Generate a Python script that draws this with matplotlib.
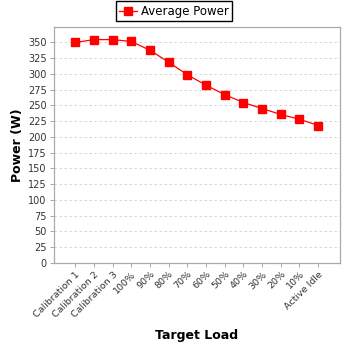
import numpy as np
import matplotlib
matplotlib.use('Agg')
import matplotlib.pyplot as plt

# Data
target_loads = ['Calibration 1', 'Calibration 2', 'Calibration 3', '100%', '90%', '80%',
                '70%', '60%', '50%', '40%', '30%', '20%', '10%', 'Active Idle']
average_power = [350, 354.5, 354.5, 351.5, 337.5, 318.5, 298.5, 282, 267, 254.5, 245, 235.5, 228, 218]
y_ticks = np.arange(0, 351, 25)

fig = plt.figure(figsize=(3.48, 3.48), dpi=100)
ax = fig.add_axes([53.5/348, (348-262.7)/348, (340-53.5)/348, (262.7-26.7)/348])

x = np.arange(len(target_loads))
ax.plot(x, average_power, color='#ff0000', linewidth=0.9, marker='s', markersize=6,
        markerfacecolor='#ff0000', markeredgecolor='#ff0000', label='Average Power')

ax.set_xlim(-1.17, len(target_loads) - 1 + 1.17)
ax.set_ylim(0, 375)
ax.set_yticks(y_ticks)
ax.set_yticklabels([str(v) for v in y_ticks], fontsize=7, color='#333333')
ax.set_xticks(x)
ax.set_xticklabels(target_loads, rotation=45, ha='right', rotation_mode='anchor',
                   fontsize=6.8, color='#333333')
ax.tick_params(axis='both', direction='out', length=3, width=0.6, color='#999999', pad=2)

ax.yaxis.grid(True, linestyle=(0, (3, 3)), color='#d0d0d0', linewidth=0.6)
ax.set_axisbelow(True)
for side in ['top', 'right', 'left', 'bottom']:
    ax.spines[side].set_color('#aaaaaa')
    ax.spines[side].set_linewidth(0.9)

ax.set_xlabel('Target Load', fontsize=9, fontweight='bold')
ax.set_ylabel('Power (W)', fontsize=9, fontweight='bold')
# label positions in figure pixels converted to axes coords
ax.xaxis.set_label_coords((196.7 - 53.5) / (340 - 53.5), (262.7 - 335) / (262.7 - 26.7))
ax.yaxis.set_label_coords((18 - 53.5) / (340 - 53.5), 0.5)
ax.xaxis.label.set_va('center')
ax.yaxis.label.set_va('center')

fig.legend(loc='upper center', bbox_to_anchor=(0.5, 1.0), fontsize=8.5, frameon=True,
           fancybox=False, edgecolor='black', framealpha=1, borderpad=0.3,
           handlelength=1.5, handletextpad=0.3, borderaxespad=0.1)

fig.savefig('out.png', dpi=100)
